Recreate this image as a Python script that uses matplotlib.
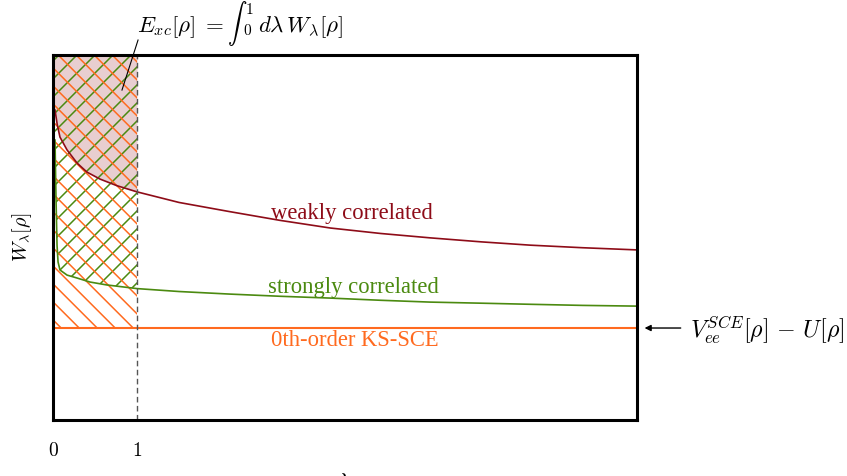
import numpy as np
import matplotlib
matplotlib.use("Agg")
import matplotlib.pyplot as plt
from matplotlib.collections import LineCollection

plt.rcParams['mathtext.fontset'] = 'cm'

# curve values (lambda, W)
lam_weak = [0.024, 0.05, 0.083, 0.167, 0.286, 0.405, 0.56, 0.76, 1.0,
            1.5, 2.1, 2.7, 3.3, 3.9, 4.49, 5.1, 5.68, 6.3, 6.95]
w_weak = [8.49, 8.10, 7.75, 7.40, 7.04, 6.79, 6.60, 6.42, 6.25,
          5.96, 5.71, 5.47, 5.26, 5.11, 4.99, 4.88, 4.79, 4.72, 4.66]

lam_strong = [0.024, 0.036, 0.048, 0.06, 0.083, 0.167, 0.286, 0.44, 0.64, 1.0,
              1.5, 2.1, 2.7, 3.3, 3.9, 4.49, 5.1, 5.68, 6.3, 6.95]
w_strong = [7.67, 6.03, 4.79, 4.33, 4.11, 3.97, 3.89, 3.78, 3.70, 3.60,
            3.52, 3.45, 3.39, 3.34, 3.28, 3.23, 3.20, 3.17, 3.14, 3.12]

w_zero = 2.52
xmax, ymax = 6.95, 10.0

dark_red = '#8e0c18'
green = '#4b8a10'
orange = '#ff6a1f'

W, H = 8.47, 4.76
pos = [53 / 847, 56 / 476, 584 / 847, 365 / 476]
fig = plt.figure(figsize=(W, H), dpi=100)
ax = fig.add_axes(pos)
ax.set_xlim(0, xmax)
ax.set_ylim(0, ymax)

px_x = pos[2] * W * 100 / xmax
px_y = pos[3] * H * 100 / ymax
k = px_x / px_y


def hatch(poly, spacing_px, sign, color, offset=0.0):
    dx = spacing_px / px_x
    span = ymax / k
    segs = []
    for c in np.arange(-span - 1 + offset, 2, dx):
        if sign > 0:
            segs.append([(c, 0), (c + span, ymax)])
        else:
            segs.append([(c, ymax), (c + span, 0)])
    lc = LineCollection(segs, colors=color, linewidths=1.1, zorder=2)
    ax.add_collection(lc)
    lc.set_clip_path(poly.get_paths()[0], ax.transData)


lw, ww = np.array(lam_weak), np.array(w_weak)
ls, ws = np.array(lam_strong), np.array(w_strong)

m = lw <= 1.0
ax.fill_between(np.r_[0, lw[m]], np.r_[ww[0], ww[m]], ymax, color=dark_red,
                alpha=0.2, lw=0, zorder=1)

ms = ls <= 1.0
g_reg = ax.fill_between(np.r_[0, ls[ms]], np.r_[ws[0], ws[ms]], ymax, facecolor='none', lw=0)
hatch(g_reg, 18, +1, green)

o_reg = ax.fill_between([0, 1], [w_zero, w_zero], ymax, facecolor='none', lw=0)
hatch(o_reg, 18, -1, orange, offset=0.05)

ax.plot(lw, ww, color=dark_red, lw=1.2, zorder=3)
ax.plot(ls, ws, color=green, lw=1.2, zorder=3)
ax.axhline(w_zero, color=orange, lw=1.5, zorder=3)
ax.axvline(1, color='#555555', lw=1.0, ls=(0, (4, 2.5)), zorder=4)

ax.text(3.56, 5.67, 'weakly correlated', color=dark_red, family='Liberation Serif',
        fontsize=16.3, ha='center', va='center')
ax.text(3.58, 3.64, 'strongly correlated', color=green, family='Liberation Serif',
        fontsize=16.3, ha='center', va='center')
ax.text(3.59, 2.19, '0th-order KS-SCE', color=orange, family='Liberation Serif',
        fontsize=16.3, ha='center', va='center')

# E_xc annotation, pieced together so the integral stays text-sized
ax.plot([1.012, 0.821], [10.41, 9.04], color='black', lw=0.8, clip_on=False, zorder=6)
top = dict(clip_on=False, ha='left')
ax.text(1.0, 10.63, r'$E_{xc}[\rho]\;=$', fontsize=16.5, va='baseline', **top)
ax.text(2.07, 10.86, r'$\int$', fontsize=14, va='center', **top)
ax.text(2.33, 11.25, r'$1$', fontsize=11, va='center', ha='center', clip_on=False)
ax.text(2.31, 10.68, r'$0$', fontsize=11, va='center', ha='center', clip_on=False)
ax.text(2.44, 10.63, r'$d\lambda\,W_\lambda[\rho]$', fontsize=16.5, va='baseline', **top)

ax.annotate('', xy=(7.04, w_zero), xytext=(7.47, w_zero), annotation_clip=False,
            arrowprops=dict(arrowstyle='-|>', color='black', lw=1.0,
                            mutation_scale=9, shrinkA=0, shrinkB=0))
ax.text(7.58, w_zero - 0.05, r'$V_{ee}^{SCE}[\rho]\,-\,U[\rho]$', fontsize=17.3,
        ha='left', va='center', clip_on=False)

ax.set_xticks([0, 1])
ax.set_xticklabels(['$0$', '$1$'], fontsize=14)
ax.set_yticks([])
ax.tick_params(axis='x', length=0, pad=15)
ax.set_xlabel(r'$\lambda$', fontsize=17, labelpad=8)
ax.set_ylabel(r'$W_\lambda[\rho]$', fontsize=14.5, labelpad=14)

for s in ax.spines.values():
    s.set_linewidth(2.2)
    s.set_zorder(5)

fig.savefig('out.png', dpi=100)
